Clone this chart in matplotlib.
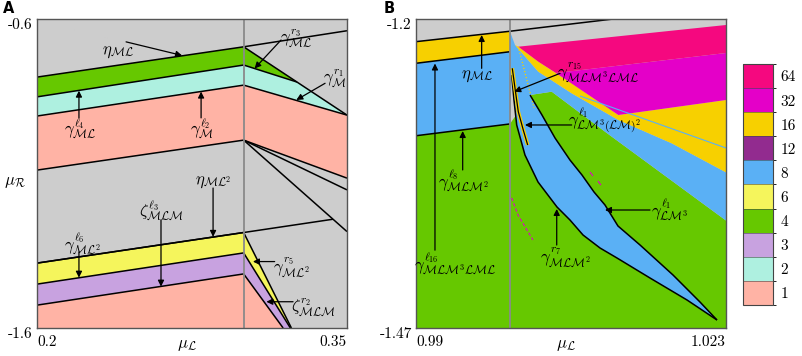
import matplotlib as mpl
import matplotlib.pyplot as plt
import matplotlib.transforms as mtrans
from matplotlib.colors import ListedColormap, BoundaryNorm

plt.rcParams['mathtext.fontset'] = 'cm'
plt.rcParams['font.family'] = ['cmr10', 'DejaVu Serif']

########################################################################
# Period legend (bottom to top) and background colour.
periods = ['1', '2', '3', '4', '6', '8', '12', '16', '32', '64']
period_colors = ['#ffb3a5', '#aef0e0', '#c8a2e0', '#66c800', '#f5f55c',
                 '#5ab0f5', '#922b8f', '#f7d000', '#e400c8', '#f5087f']
col = dict(zip(periods, period_colors))
grey = '#cdcdcd'

########################################################################
# Panel A: mu_L in [0.2, 0.35], mu_R in [-1.6, -0.6], border at mu_L = 0.3
a_xlim = [0.2, 0.35]
a_ylim = [-1.6, -0.6]
a_border = 0.3

# left of the border (x = 0.2 .. 0.3)
a_x = [0.2, 0.3]
a_eta = [-0.788, -0.690]        # eta_ML, top of green
a_gc = [-0.852, -0.749]         # green / cyan
a_cp = [-0.914, -0.814]         # cyan / pink
a_pl = [-1.089, -0.992]         # pink / grey
a_eta2 = [-1.390, -1.291]       # eta_ML^2, top of yellow
a_yp = [-1.458, -1.357]         # yellow / purple
a_pp = [-1.526, -1.425]         # purple / pink

# right of the border (x = 0.3 .. 0.35)
a_xr = [0.3, 0.35]
a_eta_r = [-0.690, -0.638]
a_outer_r = [-0.690, -0.911]
a_tip = [0.3258, -0.804]        # end of the green wedge
a_cp_r = [-0.814, -0.911]
a_pl_r = [-0.992, -1.115]
a_fan1_r = [-0.992, -1.153]
a_fan2_r = [-0.992, -1.288]
a_eta2_rx = [0.3, 0.3432]
a_eta2_r = [-1.291, -1.248]
a_low_bottom_x = [0.3231, 0.3226, 0.3191]   # where the lower lines hit mu_R = -1.6

########################################################################
# Panel B: mu_L in [0.99, 1.023], mu_R in [-1.47, -1.2], border at mu_L = 1.0
b_xlim = [0.99, 1.023]
b_ylim = [-1.47, -1.2]
b_border = 1.0

b_top_x = [0.99, 1.0, 1.0110]
b_top_y = [-1.2198, -1.2107, -1.2]
b_x = [0.99, 1.0]
b_yb = [-1.2387, -1.2286]       # yellow / blue
b_bg = [-1.3020, -1.2917]       # blue / green

# top edge of the long blue band
b_btop_x = [1.00054, 1.00302, 1.00657, 1.01154, 1.01722, 1.023]
b_btop_y = [-1.22272, -1.24605, -1.26492, -1.28825, -1.30861, -1.3340]
# bottom edge of the long blue band
b_bbot_x = [1.00445, 1.01012, 1.023]
b_bbot_y = [-1.26352, -1.29848, -1.3761]
# yellow / pink diagonal
b_diag_x = [1.00089, 1.00302, 1.00657, 1.01154]
b_diag_y = [-1.22420, -1.23731, -1.25618, -1.28388]
# top edge of the period-64 fan
b_pink_top_x = [1.00089, 1.01012, 1.023]
b_pink_top_y = [-1.22420, -1.21633, -1.20524]
b_mag_tip = [1.00490, -1.24718]
b_mag_right_y = [-1.22971, -1.27078]   # magenta at the right edge
# upper-right boundary of the lens (gamma_LM^3)
b_c2_x = [1.00214, 1.00341, 1.00480, 1.00639, 1.00767, 1.00895, 1.01012,
          1.01150, 1.01385, 1.01736, 1.02023, 1.02204]
b_c2_y = [-1.26641, -1.28388, -1.30398, -1.32320, -1.33631, -1.35117,
          -1.36253, -1.38087, -1.39748, -1.42369, -1.44728, -1.46301]
# lower-left boundary of the lens (gamma_MLM^2)
b_c1_x = [1.00019, 1.00043, 1.00072, 1.00160, 1.00299, 1.00501, 1.00639,
          1.00778, 1.00959, 1.01140, 1.01491, 1.01885, 1.02204]
b_c1_y = [-1.24893, -1.27078, -1.29262, -1.31884, -1.34243, -1.36427,
          -1.37563, -1.38874, -1.40010, -1.40884, -1.42631, -1.44553,
          -1.46301]
# short curve near the border
b_short_x = [1.00025, 1.00054, 1.00089, 1.00142, 1.00189]
b_short_y = [-1.24308, -1.26055, -1.28100, -1.29699, -1.31010]
# thin streaks
b_streak_x = [1.00746, 1.023]
b_streak_y = [-1.26728, -1.31272]
b_dots_x = [1.00089, 1.00257]
b_dots_y = [-1.22420, -1.27778]
b_purple_x = [1.00019, 1.00086, 1.00245]
b_purple_y = [-1.35641, -1.37127, -1.39311]
b_purple2_x = [1.00852, 1.00884, 1.00937, 1.00969]
b_purple2_y = [-1.3337, -1.3372, -1.3416, -1.3451]

########################################################################
# Labels: text, text position, arrow tail, arrow head
a_labels = [
    (r'$\eta_{\mathcal{ML}}$', 0.2392, -0.707, 0.2431, -0.674, 0.2702, -0.718),
    (r'$\gamma^{r_3}_{\mathcal{ML}}$', 0.3255, -0.661, 0.3181, -0.668, 0.3053, -0.760),
    (r'$\gamma^{r_1}_{\mathcal{M}}$', 0.3442, -0.792, 0.3394, -0.808, 0.3255, -0.862),
    (r'$\gamma^{\ell_4}_{\mathcal{ML}}$', 0.2208, -0.953, 0.2203, -0.920, 0.2203, -0.832),
    (r'$\gamma^{\ell_2}_{\mathcal{M}}$', 0.2798, -0.953, 0.2794, -0.920, 0.2794, -0.835),
    (r'$\eta_{\mathcal{ML}^2}$', 0.2852, -1.128, 0.2852, -1.147, 0.2852, -1.305),
    (r'$\zeta^{\ell_3}_{\mathcal{MLM}}$', 0.2600, -1.218, 0.2600, -1.250, 0.2600, -1.466),
    (r'$\gamma^{\ell_6}_{\mathcal{ML}^2}$', 0.2218, -1.325, 0.2203, -1.354, 0.2203, -1.437),
    (r'$\gamma^{r_5}_{\mathcal{ML}^2}$', 0.3231, -1.402, 0.3150, -1.385, 0.3045, -1.385),
    (r'$\zeta^{r_2}_{\mathcal{MLM}}$', 0.3336, -1.533, 0.3239, -1.515, 0.3110, -1.515),
]
b_labels = [
    (r'$\eta_{\mathcal{ML}}$', 0.99646, -1.2498, 0.99699, -1.2431, 0.99699, -1.2140),
    (r'$\gamma^{\ell_8}_{\mathcal{MLM}^2}$', 0.99500, -1.3407, 0.99497, -1.3319, 0.99497, -1.2979),
    (r'$\gamma^{\ell_{16}}_{\mathcal{MLM}^3\mathcal{LML}}$', 0.99415, -1.4135, 0.99202, -1.4020, 0.99202, -1.2389),
    (r'$\gamma^{r_{15}}_{\mathcal{MLM}^3\mathcal{LML}}$', 1.00937, -1.2461, 1.00533, -1.2475, 1.00046, -1.2635),
    (r'$\gamma^{\ell_1}_{\mathcal{LM}^3(\mathcal{LM})^2}$', 1.01012, -1.2883, 1.00657, -1.2926, 1.00160, -1.2926),
    (r'$\gamma^{\ell_1}_{\mathcal{LM}^3}$', 1.01693, -1.3660, 1.01491, -1.3669, 1.01012, -1.3669),
    (r'$\gamma^{r_7}_{\mathcal{MLM}^2}$', 1.00586, -1.4084, 1.00498, -1.3975, 1.00498, -1.3660),
]

########################################################################
fig = plt.figure(figsize=(8.02, 3.56), dpi=100)
axA = fig.add_axes([0.04613, 0.07865, 0.38653, 0.86798])
axB = fig.add_axes([0.51870, 0.07865, 0.38653, 0.86798])
cax = fig.add_axes([0.92681, 0.14326, 0.03741, 0.67697])

LW = 1.1
down = mtrans.ScaledTranslation(0, -3 / 72, fig.dpi_scale_trans)


def fill(ax, xs, ys, c):
    ax.fill(xs, ys, color=c, lw=0, zorder=1)


def line(ax, xs, ys, **kw):
    kw.setdefault('color', 'k')
    kw.setdefault('lw', LW)
    ax.plot(xs, ys, zorder=3, solid_capstyle='butt', **kw)


def style(ax, xlim, ylim, xlab, ylab, border):
    ax.set_facecolor(grey)
    ax.set_xlim(xlim)
    ax.set_ylim(ylim)
    ax.axvline(border, color='#8a8a8a', lw=1.3, zorder=4)
    ax.set_xticks(xlim, xlab)
    ax.set_yticks(ylim, ylab)
    ax.tick_params(length=0, labelsize=11)
    ax.tick_params(axis='x', pad=5)
    ax.tick_params(axis='y', pad=3)
    xl = ax.get_xticklabels()
    xl[0].set_ha('left')
    xl[1].set_ha('right')
    for t in ax.get_yticklabels():
        t.set_transform(t.get_transform() + down)
    for s in ax.spines.values():
        s.set_color('#555555')
        s.set_linewidth(1.0)
        s.set_zorder(5)
    ax.text(0.485, -0.055, r'$\mu_{\mathcal{L}}$', transform=ax.transAxes,
            ha='center', va='center', fontsize=12)


def labels(ax, items):
    for txt, tx, ty, ax0, ay0, hx, hy in items:
        ax.annotate('', xy=(hx, hy), xytext=(ax0, ay0),
                    arrowprops=dict(arrowstyle='-|>', color='k', lw=0.9,
                                    mutation_scale=9, shrinkA=0, shrinkB=0),
                    zorder=6)
        ax.text(tx, ty, txt, ha='center', va='center', fontsize=12, zorder=6)


# ---------------- panel A
fill(axA, a_x + [a_tip[0]] + a_x[::-1], a_eta + [a_tip[1]] + a_gc[::-1], col['4'])
fill(axA, a_x + [a_tip[0], a_xr[1]] + a_xr[::-1] + [a_x[0]],
     a_gc + [a_tip[1], a_outer_r[1]] + a_cp_r[::-1] + [a_cp[0]], col['2'])
fill(axA, a_x + [a_xr[1], a_xr[1]] + a_x[::-1],
     a_cp + [a_cp_r[1], a_pl_r[1]] + a_pl[::-1], col['1'])
fill(axA, a_x + a_low_bottom_x[:2] + a_x[::-1],
     a_eta2 + [a_ylim[0], a_ylim[0]] + a_yp[::-1], col['6'])
fill(axA, a_x + a_low_bottom_x[1:] + a_x[::-1],
     a_yp + [a_ylim[0], a_ylim[0]] + a_pp[::-1], col['3'])
fill(axA, a_x + [a_low_bottom_x[2], a_x[0]],
     a_pp + [a_ylim[0], a_ylim[0]], col['1'])

line(axA, a_x + [a_xr[1]], a_eta + [a_eta_r[1]])
line(axA, a_xr, a_outer_r)
line(axA, a_x + [a_tip[0]], a_gc + [a_tip[1]])
line(axA, a_x + [a_xr[1]], a_cp + [a_cp_r[1]])
line(axA, a_x + [a_xr[1]], a_pl + [a_pl_r[1]])
line(axA, a_xr, a_fan1_r)
line(axA, a_xr, a_fan2_r)
line(axA, a_x + [a_eta2_rx[1]], a_eta2 + [a_eta2_r[1]])
line(axA, a_x + [a_low_bottom_x[0]], a_eta2 + [a_ylim[0]])
line(axA, a_x + [a_low_bottom_x[1]], a_yp + [a_ylim[0]])
line(axA, a_x + [a_low_bottom_x[2]], a_pp + [a_ylim[0]])

style(axA, a_xlim, a_ylim, ['0.2', '0.35'], ['-1.6', '-0.6'], a_border)
axA.text(-0.071, 0.4725, r'$\mu_{\mathcal{R}}$', transform=axA.transAxes,
         ha='center', va='center', fontsize=12)
labels(axA, a_labels)

# ---------------- panel B
fill(axB, b_top_x[:2] + b_x[::-1], b_top_y[:2] + b_yb[::-1], col['16'])
fill(axB, b_x + b_x[::-1], b_yb + b_bg[::-1], col['8'])
fill(axB, b_x + b_x[::-1], b_bg + [b_ylim[0], b_ylim[0]], col['4'])

# green right of the border
fill(axB, [b_border, b_border, b_c2_x[0]] + b_bbot_x + [b_xlim[1]],
     [b_ylim[0], b_bg[1], b_c2_y[0]] + b_bbot_y + [b_ylim[0]], col['4'])
# blue: band + lens
fill(axB, [b_border] + b_btop_x + b_bbot_x[::-1] + b_c2_x + b_c1_x[::-1][1:] + [b_border],
     [b_top_y[1]] + b_btop_y + b_bbot_y[::-1] + b_c2_y + b_c1_y[::-1][1:] + [b_c1_y[2]],
     col['8'])
# yellow band and wedge
fill(axB, b_diag_x + [b_xlim[1], b_xlim[1]] + b_btop_x[::-1],
     b_diag_y + [b_mag_right_y[1], b_btop_y[-1]] + b_btop_y[::-1], col['16'])
# magenta
fill(axB, [b_mag_tip[0], b_xlim[1], b_xlim[1], b_diag_x[-1]],
     [b_mag_tip[1]] + b_mag_right_y + [b_diag_y[-1]], col['32'])
# deep pink
fill(axB, b_pink_top_x + [b_xlim[1], b_mag_tip[0]] + b_diag_x[1:2],
     b_pink_top_y + [b_mag_right_y[0], b_mag_tip[1]] + b_diag_y[1:2], col['64'])

line(axB, b_streak_x, b_streak_y, color=col['8'], lw=0.8)
line(axB, b_dots_x, b_dots_y, color=col['16'], lw=0.9, ls=(0, (1, 1.5)))
line(axB, b_purple_x, b_purple_y, color=col['32'], lw=0.8, ls=(0, (3, 2)))
line(axB, b_purple2_x[:2], b_purple2_y[:2], color=col['32'], lw=0.8)
line(axB, b_purple2_x[2:], b_purple2_y[2:], color=col['32'], lw=0.8)
line(axB, b_top_x, b_top_y)
line(axB, b_x, b_yb)
line(axB, b_x, b_bg)
line(axB, b_c1_x, b_c1_y)
line(axB, b_c2_x, b_c2_y)
line(axB, b_short_x, b_short_y, color=col['16'], lw=2.6)
line(axB, b_short_x, b_short_y, lw=0.9)

style(axB, b_xlim, b_ylim, ['0.99', '1.023'], ['-1.47', '-1.2'], b_border)
labels(axB, b_labels)

# ---------------- legend
cmap = ListedColormap(period_colors)
norm = BoundaryNorm(range(len(periods) + 1), len(periods))
cb = fig.colorbar(mpl.cm.ScalarMappable(norm=norm, cmap=cmap), cax=cax,
                  drawedges=True)
cb.set_ticks([i + 0.5 for i in range(len(periods))], labels=periods)
cb.ax.tick_params(length=0, labelsize=11, pad=5)
cb.outline.set_edgecolor('#444444')
cb.dividers.set_color('#444444')

fig.text(0.004, 0.997, 'A', family='DejaVu Sans', weight='bold', size=10.5, va='top')
fig.text(0.4788, 0.997, 'B', family='DejaVu Sans', weight='bold', size=10.5, va='top')

fig.savefig('out.png', dpi=100)
